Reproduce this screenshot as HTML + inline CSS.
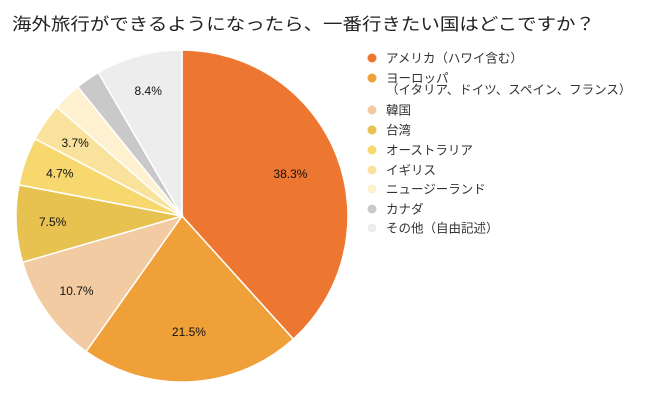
<!DOCTYPE html>
<html><head><meta charset="utf-8"><style>
body{margin:0;background:#fff;width:650px;height:403px;overflow:hidden;font-family:"Liberation Sans","Noto Sans CJK JP",sans-serif}
</style></head><body>
<svg width="650" height="403" id="svg">
<text x="12" y="30" font-size="17" fill="#222" textLength="583" lengthAdjust="spacingAndGlyphs">海外旅行ができるようになったら、一番行きたい国はどこですか？</text>
<g id="slices"></g><g id="labels"></g><g id="legend"></g>
</svg>
<script>
const categories=["アメリカ（ハワイ含む）","ヨーロッパ","韓国","台湾","オーストラリア","イギリス","ニュージーランド","カナダ","その他（自由記述）"];
const values=[38.3,21.5,10.7,7.5,4.7,3.7,2.8,2.4,8.4];
const colors=["#ED7730","#F0A038","#F2CBA2","#E8C250","#F6D86E","#F9E39C","#FDF1D0","#C9C9C9","#EDEDED"];
const NS="http://www.w3.org/2000/svg";
const cx=182,cy=216,r=166;
const total=values.reduce((a,b)=>a+b,0);
const sg=document.getElementById('slices'),lg=document.getElementById('labels'),leg=document.getElementById('legend');
let a0=0;
values.forEach((v,i)=>{
 const a1=a0+v/total*2*Math.PI;
 const p=t=>[cx+r*Math.sin(t),cy-r*Math.cos(t)];
 const [x0,y0]=p(a0),[x1,y1]=p(a1);
 const path=document.createElementNS(NS,'path');
 path.setAttribute('d',`M${cx},${cy}L${x0},${y0}A${r},${r} 0 ${a1-a0>Math.PI?1:0} 1 ${x1},${y1}Z`);
 path.setAttribute('fill',colors[i]);path.setAttribute('stroke','#fff');path.setAttribute('stroke-width','1.5');
 
 
 sg.appendChild(path);
 if(v>=3.5){
  const m=(a0+a1)/2,rr=v>20?r*0.7:r*0.78;
  const t=document.createElementNS(NS,'text');
  t.setAttribute('x',cx+rr*Math.sin(m));t.setAttribute('y',cy-rr*Math.cos(m)+4);
  t.setAttribute('text-anchor','middle');t.setAttribute('font-size','12');t.setAttribute('fill','#111');
  t.textContent=v.toFixed(1)+'%';
  
  
  lg.appendChild(t);
 }
 a0=a1;
});
const ys=[58,78,110,130,150,170,189,209,228];
categories.forEach((c,i)=>{
 const g=document.createElementNS(NS,'g');
 
 
 const d=document.createElementNS(NS,'circle');
 d.setAttribute('cx',372);d.setAttribute('cy',ys[i]);d.setAttribute('r',4.5);d.setAttribute('fill',colors[i]);
 g.appendChild(d);
 const t=document.createElementNS(NS,'text');
 t.setAttribute('x',386);t.setAttribute('y',ys[i]+4.5);t.setAttribute('font-size','12.5');t.setAttribute('fill','#333');
 t.textContent=c;g.appendChild(t);
 if(i===1){const t2=document.createElementNS(NS,'text');t2.setAttribute('x',386);t2.setAttribute('y',ys[i]+16);t2.setAttribute('font-size','12.5');t2.setAttribute('fill','#333');t2.textContent='（イタリア、ドイツ、スペイン、フランス）';g.appendChild(t2);}
 leg.appendChild(g);
});
</script>
</body></html>
